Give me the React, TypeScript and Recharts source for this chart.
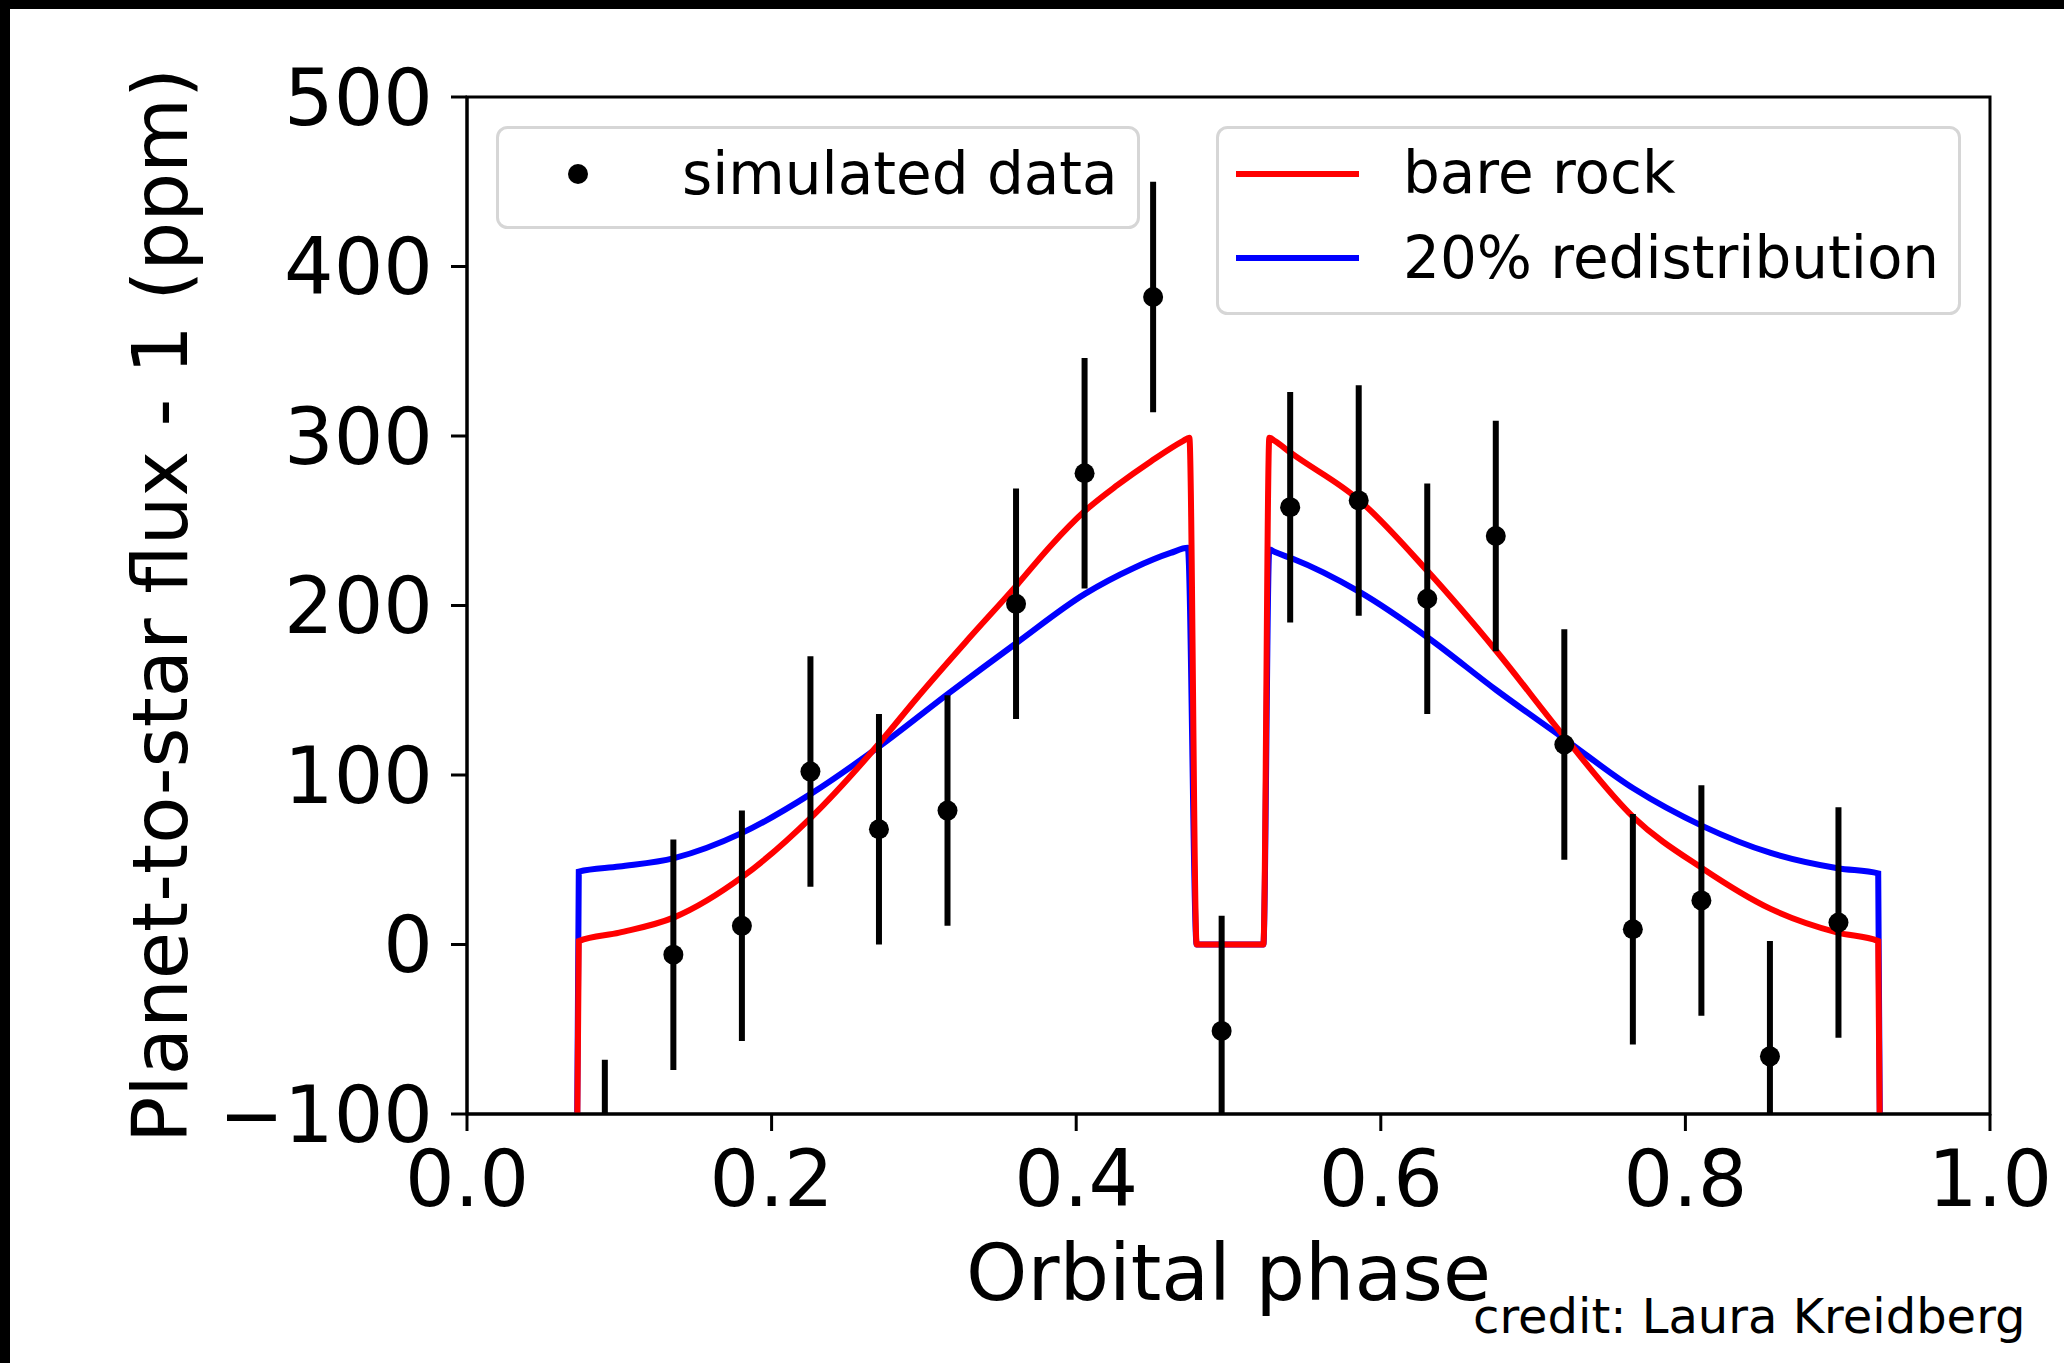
import React from 'react';
import {
  ComposedChart,
  Line,
  Scatter,
  ErrorBar,
  XAxis,
  YAxis,
  Legend,
  ReferenceArea,
  Label,
} from 'recharts';

const FONT = "'DejaVu Sans', 'Liberation Sans', sans-serif";

// Simulated data (orbital phase, flux ppm, 1-sigma error)
const dataPhase = [0.0905, 0.1355, 0.1805, 0.2255, 0.2705, 0.3155, 0.3605, 0.4055, 0.4505, 0.4955, 0.5405, 0.5855, 0.6305, 0.6755, 0.7205, 0.7655, 0.8105, 0.8555, 0.9005];
const dataFlux = [-136, -6, 11, 102, 68, 79, 201, 278, 382, -51, 258, 262, 204, 241, 118, 9, 26, -66, 13];
const dataErr = [68, 68, 68, 68, 68, 68, 68, 68, 68, 68, 68, 68, 68, 68, 68, 68, 68, 68, 68];

// Bare rock model
const bareRockPhase = [0.072, 0.0734, 0.1, 0.136, 0.181, 0.226, 0.271, 0.295, 0.328, 0.361, 0.383, 0.406, 0.427, 0.449, 0.470, 0.4743, 0.4791, 0.5229, 0.5268, 0.5305, 0.541, 0.586, 0.631, 0.676, 0.721, 0.766, 0.811, 0.856, 0.9, 0.9266, 0.928];
const bareRockFlux = [-150, 2, 7, 16, 40, 75, 119, 145, 179, 212, 235, 256, 271, 285, 297, 299, 0, 0, 299, 297, 290, 262, 220, 173, 122, 75, 45, 21, 7, 2, -150];

// 20% redistribution model
const redistPhase = [0.072, 0.0734, 0.1, 0.136, 0.181, 0.226, 0.271, 0.316, 0.361, 0.406, 0.4375, 0.462, 0.4733, 0.4791, 0.5229, 0.5268, 0.5305, 0.541, 0.586, 0.631, 0.676, 0.721, 0.766, 0.811, 0.856, 0.9, 0.9266, 0.928];
const redistFlux = [-150, 43, 46, 51, 66, 89, 117, 148, 178, 207, 222, 231, 234, 0, 0, 233, 231.5, 228, 208, 181, 150, 121, 92, 70, 54, 45, 42, -150];

const xTicks = [0, 0.2, 0.4, 0.6, 0.8, 1.0];
const yTicks = [-100, 0, 100, 200, 300, 400, 500];
const yDomain: [number, number] = [-100, 500];

const seriesNames = ['simulated data', 'bare rock', '20% redistribution'];
const xLabel = 'Orbital phase';
const yLabel = 'Planet-to-star flux - 1 (ppm)';
const credit = 'credit: Laura Kreidberg';

// error bars are trimmed to the visible y-range (the plot area clips them)
const scatterData = dataPhase.map((p, i) => {
  const f = dataFlux[i];
  const e = dataErr[i];
  const down = Math.min(e, f - yDomain[0]);
  const up = Math.min(e, yDomain[1] - f);
  return { phase: p, flux: f, err: [down, up] };
});
const bareRockData = bareRockPhase.map((p, i) => ({ phase: p, value: bareRockFlux[i] }));
const redistData = redistPhase.map((p, i) => ({ phase: p, value: redistFlux[i] }));

const fmtX = (v: number) => v.toFixed(1);
const fmtY = (v: number) => (v < 0 ? '\u2212' + Math.abs(v) : String(v));

const YLabelContent = (props: any) => {
  const vb = props.viewBox || { x: 0, y: 97, width: 467, height: 1017 };
  const cx = vb.x + 187;
  const cy = vb.y + vb.height / 2;
  return (
    <text
      x={cx}
      y={cy}
      transform={`rotate(-90 ${cx} ${cy})`}
      textAnchor="middle"
      fontSize={77}
      fontFamily={FONT}
      fill="#000"
    >
      {yLabel}
    </text>
  );
};

const XLabelContent = (props: any) => {
  const vb = props.viewBox || { x: 467, y: 1114, width: 1523, height: 249 };
  return (
    <text
      x={vb.x + vb.width / 2}
      y={vb.y + 186}
      textAnchor="middle"
      fontSize={78}
      fontFamily={FONT}
      fill="#000"
    >
      {xLabel}
    </text>
  );
};

const renderLegend = () => (
  <svg width={2064} height={1363} style={{ position: 'absolute', left: 0, top: 0, pointerEvents: 'none' }}>
    <rect x={497.5} y={127.5} width={641} height={100} rx={10} ry={10} fill="#fff" fillOpacity={0.8} stroke="#d6d6d6" strokeWidth={3} />
    <circle cx={578} cy={174} r={10} fill="#000" />
    <text x={682} y={194} fontSize={58} fontFamily={FONT} fill="#000">{seriesNames[0]}</text>
    <rect x={1217.5} y={127.5} width={742} height={186} rx={10} ry={10} fill="#fff" fillOpacity={0.8} stroke="#d6d6d6" strokeWidth={3} />
    <line x1={1236} x2={1359} y1={174} y2={174} stroke="#ff0000" strokeWidth={6} />
    <text x={1403} y={193} fontSize={58} fontFamily={FONT} fill="#000">{seriesNames[1]}</text>
    <line x1={1236} x2={1359} y1={258} y2={258} stroke="#0000ff" strokeWidth={6} />
    <text x={1403} y={278} fontSize={58} fontFamily={FONT} fill="#000">{seriesNames[2]}</text>
  </svg>
);

const Dot = (props: any) => {
  if (props.cx == null || props.cy == null) return null;
  return <circle cx={props.cx} cy={props.cy} r={10} fill="#000" />;
};

export default function App() {
  return (
    <div style={{ position: 'absolute', left: 0, top: 0, width: 2064, height: 1363, background: '#fff', overflow: 'hidden' }}>
      <ComposedChart
        width={2064}
        height={1363}
        margin={{ top: 97, right: 74, bottom: 0, left: 0 }}
        style={{ position: 'absolute', left: 0, top: 0 }}
      >
        <XAxis
          type="number"
          dataKey="phase"
          domain={[0, 1]}
          ticks={xTicks}
          allowDataOverflow
          height={249}
          tickSize={17}
          tickMargin={20}
          interval={0}
          tickFormatter={fmtX}
          tick={{ fontSize: 78, fill: '#000', fontFamily: FONT }}
          axisLine={{ stroke: '#000', strokeWidth: 3 }}
          tickLine={{ stroke: '#000', strokeWidth: 3 }}
        >
          <Label content={XLabelContent} />
        </XAxis>
        <YAxis
          type="number"
          domain={yDomain}
          ticks={yTicks}
          allowDataOverflow
          width={467}
          tickSize={16}
          tickMargin={18}
          interval={0}
          tickFormatter={fmtY}
          tick={{ fontSize: 78, fill: '#000', fontFamily: FONT }}
          axisLine={{ stroke: '#000', strokeWidth: 3 }}
          tickLine={{ stroke: '#000', strokeWidth: 3 }}
        >
          <Label content={YLabelContent} />
        </YAxis>
        <ReferenceArea x1={0} x2={1} y1={-100} y2={500} fill="none" fillOpacity={0} stroke="#000" strokeWidth={3} />
        <Line
          data={redistData}
          dataKey="value"
          name={seriesNames[2]}
          type="monotone"
          stroke="#0000ff"
          strokeWidth={6}
          dot={false}
          activeDot={false}
          isAnimationActive={false}
        />
        <Line
          data={bareRockData}
          dataKey="value"
          name={seriesNames[1]}
          type="monotone"
          stroke="#ff0000"
          strokeWidth={6}
          dot={false}
          activeDot={false}
          isAnimationActive={false}
        />
        <Scatter
          data={scatterData}
          dataKey="flux"
          name={seriesNames[0]}
          fill="#000"
          shape={Dot}
          isAnimationActive={false}
        >
          <ErrorBar dataKey="err" direction="y" width={0} stroke="#000" strokeWidth={6} isAnimationActive={false} />
        </Scatter>
        <Legend
          layout="horizontal"
          verticalAlign="middle"
          align="center"
          wrapperStyle={{ top: 0, left: 0, width: 2064, height: 1363, pointerEvents: 'none' }}
          content={renderLegend}
        />
      </ComposedChart>
      <div style={{ position: 'absolute', left: 0, top: 0, width: 2064, height: 9, background: '#000' }} />
      <div style={{ position: 'absolute', left: 0, top: 0, width: 10, height: 1363, background: '#000' }} />
      <svg width={2064} height={1363} style={{ position: 'absolute', left: 0, top: 0, pointerEvents: 'none' }}>
        <text x={1473} y={1333} fontSize={48} fontFamily={FONT} fill="#000">{credit}</text>
      </svg>
    </div>
  );
}
